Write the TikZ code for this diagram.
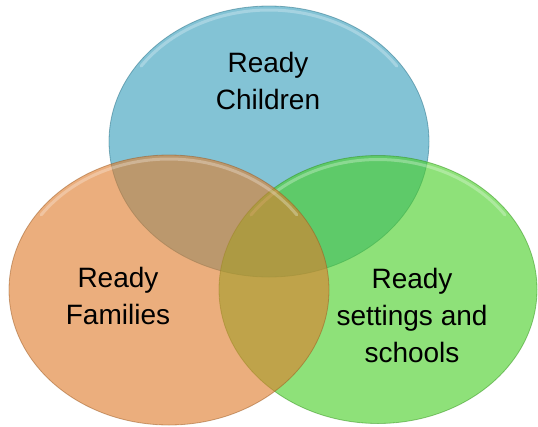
\documentclass[tikz,border=0pt]{standalone}
\usepackage{fontspec}
\setmainfont{Liberation Sans}
\definecolor{cblue}{RGB}{55,158,188}
\definecolor{corange}{RGB}{222,125,45}
\definecolor{cgreen}{RGB}{72,207,38}
\tikzset{
  setfill/.style={fill=#1, fill opacity=0.62, draw=#1!70!black, draw opacity=0.5, line width=0.8pt},
  gloss/.style={draw=white, draw opacity=0.28, line width=3pt, line cap=round},
  label/.style={align=center, text=black, font=\fontsize{28}{37}\selectfont, inner sep=0pt}
}
\begin{document}
\begin{tikzpicture}[x=1pt,y=-1pt]
\useasboundingbox (0,0) rectangle (538,426);
% blue (top)
\path[setfill=cblue] (269,141.5) ellipse [x radius=160, y radius=135.5];
\draw[gloss] (269,141.5) ++(35:156 and -131.5) arc [start angle=35, end angle=145, x radius=156, y radius=-131.5];
% green (right)
\path[setfill=cgreen] (378,289.5) ellipse [x radius=159, y radius=134];
\draw[gloss] (378,289.5) ++(35:155 and -130) arc [start angle=35, end angle=145, x radius=155, y radius=-130];
% orange (left)
\path[setfill=corange] (169,290) ellipse [x radius=160, y radius=135];
\draw[gloss] (169,290) ++(35:156 and -131) arc [start angle=35, end angle=145, x radius=156, y radius=-131];
% labels
\node[label] (children) at (268,81) {Ready\\Children};
\node[label] (families) at (118,296) {Ready\\Families};
\node[label] (settings) at (412,315) {Ready\\settings and\\schools};
\end{tikzpicture}
\end{document}
